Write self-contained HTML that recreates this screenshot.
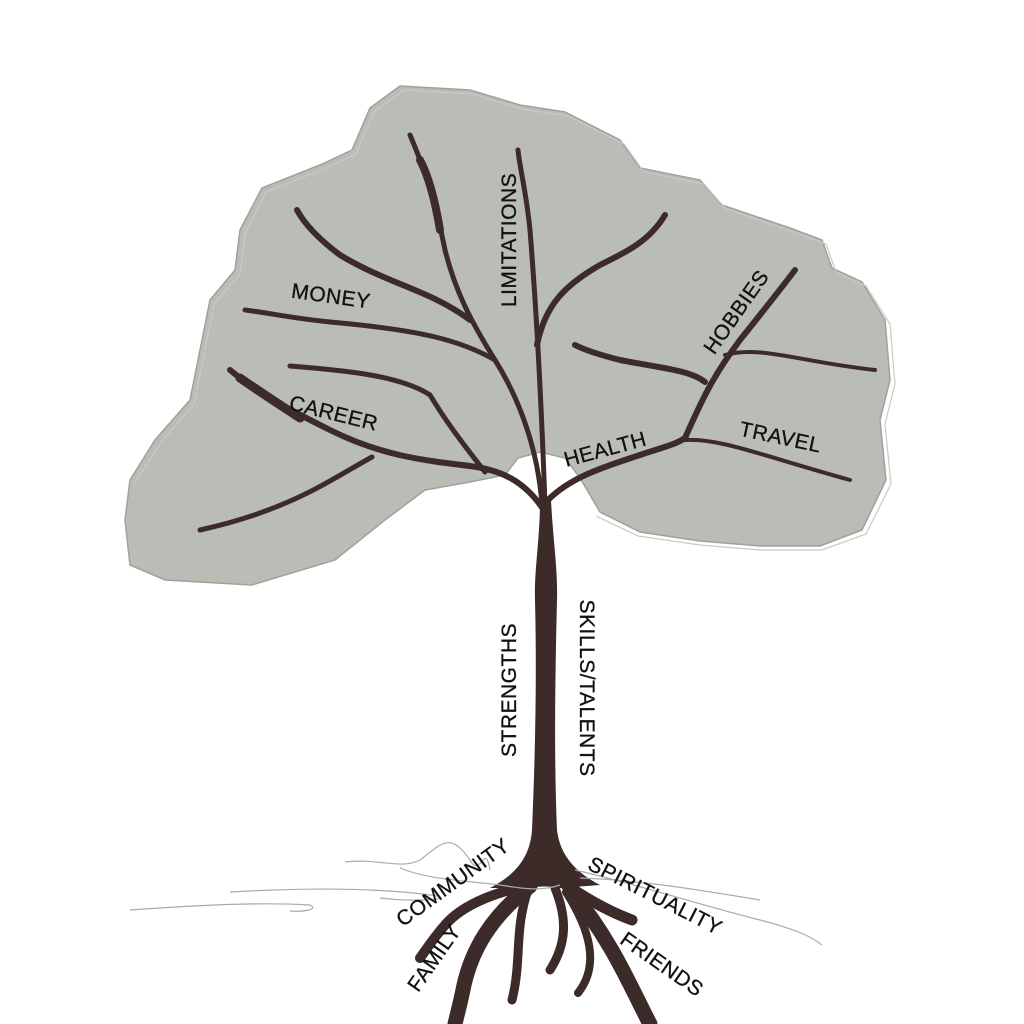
<!DOCTYPE html>
<html><head><meta charset="utf-8"><style>
html,body{margin:0;padding:0;background:#fff;width:1024px;height:1024px;overflow:hidden}
svg{display:block}
text{font-family:"Liberation Sans",sans-serif;font-size:21px;fill:#111;letter-spacing:0.5px;stroke:#111;stroke-width:0.3}
</style></head><body>
<svg width="1024" height="1024" viewBox="0 0 1024 1024">
<!-- canopy -->
<path d="M130,480 L155,440 L190,400 L200,350 L210,300 L235,270 L240,230 L262,188 L320,165 L352,150 L370,108 L400,86 L470,90 L520,105 L565,112 L620,140 L640,168 L700,180 L722,205 L790,228 L822,240 L832,268 L862,282 L885,320 L890,380 L880,420 L886,480 L862,530 L820,546 L760,546 L700,541 L640,532 L600,512 L580,478 L565,458 L540,452 L518,458 L505,475 L470,482 L425,490 L385,520 L335,560 L252,585 L165,580 L130,565 L125,520 Z" fill="#b9bdb5" stroke="#9ea29a" stroke-width="1.5"/>
<path d="M134,484 L160,444 L194,404 L204,354 L214,304 L240,274 L245,234 L266,192 L324,169 L356,154 L374,112 L404,90 L472,94 L522,109 L568,116 L624,144 L644,172 L704,184 L726,209 L794,232 L826,244 L836,272 L866,286 L890,324 L895,384 L885,424 L891,484 L866,534 L822,550 L760,550 L700,545 L638,536 L596,516" fill="none" stroke="#c8cbc5" stroke-width="1.2"/>
<!-- trunk filled -->
<path d="M540,500 L551,500 C553,540 558,570 557,600 C555,680 554,760 557,830 C560,855 575,872 600,885 L560,888 C550,886 540,886 528,888 L490,888 C515,875 530,858 532,830 C535,760 537,680 535,600 C534,570 540,540 540,500 Z" fill="#3d2b2a"/>
<g fill="none" stroke="#3d2b2a" stroke-linecap="round" stroke-linejoin="round">
<!-- left main -->
<path d="M545,512 C525,480 500,470 470,466 C420,460 380,455 330,430 C290,410 260,395 230,370" stroke-width="6"/>
<path d="M300,418 C280,405 260,392 240,378" stroke-width="9"/>
<path d="M372,457 C330,480 290,510 200,530" stroke-width="5"/>
<path d="M485,472 C460,440 445,420 430,395 C400,375 340,370 290,366" stroke-width="5"/>
<!-- left center -->
<path d="M542,505 C538,450 520,400 495,360 C470,320 455,290 445,250 C435,200 425,170 410,135" stroke-width="5"/>
<path d="M440,230 C435,200 428,175 420,160" stroke-width="8"/>
<path d="M470,320 C430,290 390,285 340,255 C320,240 305,225 297,210" stroke-width="6"/>
<path d="M495,360 C460,340 420,330 330,322 C290,318 270,313 245,310" stroke-width="5"/>
<!-- center -->
<path d="M545,505 C542,420 538,330 530,230 C526,190 520,170 518,150" stroke-width="5"/>
<path d="M537,345 C545,305 565,285 600,265 C630,250 650,240 665,215" stroke-width="6"/>
<!-- right -->
<path d="M548,500 C570,478 600,468 640,455 C660,448 675,445 685,438 C700,405 710,380 740,340 C760,315 780,290 795,270" stroke-width="6"/>
<path d="M705,382 C690,370 660,368 620,360 C600,355 585,350 575,345" stroke-width="6"/>
<path d="M725,355 C760,345 800,362 875,370" stroke-width="4"/>
<path d="M685,440 C720,438 760,455 850,480" stroke-width="4"/>
<!-- roots -->
<path d="M530,884 C500,892 465,902 445,925 C432,940 426,950 420,958" stroke-width="10"/>
<path d="M530,886 C490,918 472,950 464,985 C460,1005 457,1015 455,1024" stroke-width="15"/>
<path d="M528,890 C514,930 522,960 512,1000" stroke-width="9"/>
<path d="M555,888 C568,920 566,945 550,970" stroke-width="9"/>
<path d="M562,882 C588,900 610,912 632,920" stroke-width="11"/>
<path d="M566,892 C590,930 600,965 578,993" stroke-width="8"/>
<path d="M570,890 C612,940 632,990 650,1024" stroke-width="15"/>
</g>
<!-- ground scribbles -->
<g fill="none" stroke="#aaa" stroke-width="1.2">
<path d="M130,910 C200,905 260,902 310,905 C320,910 300,912 290,911"/>
<path d="M230,892 C300,888 370,887 430,895 C460,898 420,903 380,898"/>
<path d="M345,862 C380,858 400,870 420,860 C440,845 450,830 470,860 C480,880 485,840 490,870"/>
<path d="M400,868 C430,880 460,880 500,885 C520,888 540,892 560,885"/>
<path d="M575,870 C640,885 700,905 760,920 C790,928 810,935 822,945"/>
<path d="M580,878 C640,880 700,890 760,900"/>
</g>
<!-- labels -->
<text transform="translate(330,303) rotate(8)" text-anchor="middle">MONEY</text>
<text transform="translate(516,240) rotate(-90)" text-anchor="middle">LIMITATIONS</text>
<text transform="translate(332,420) rotate(14)" text-anchor="middle">CAREER</text>
<text transform="translate(607,456) rotate(-15)" text-anchor="middle">HEALTH</text>
<text transform="translate(742,316) rotate(-55)" text-anchor="middle">HOBBIES</text>
<text transform="translate(779,444) rotate(12)" text-anchor="middle">TRAVEL</text>
<text transform="translate(516,690) rotate(-90)" text-anchor="middle">STRENGTHS</text>
<text transform="translate(580,688) rotate(90)" text-anchor="middle">SKILLS/TALENTS</text>
<text transform="translate(457,888) rotate(-36)" text-anchor="middle">COMMUNITY</text>
<text transform="translate(440,962) rotate(-55)" text-anchor="middle">FAMILY</text>
<text transform="translate(652,902) rotate(27)" text-anchor="middle">SPIRITUALITY</text>
<text transform="translate(658,970) rotate(35)" text-anchor="middle">FRIENDS</text>
</svg>
</body></html>
